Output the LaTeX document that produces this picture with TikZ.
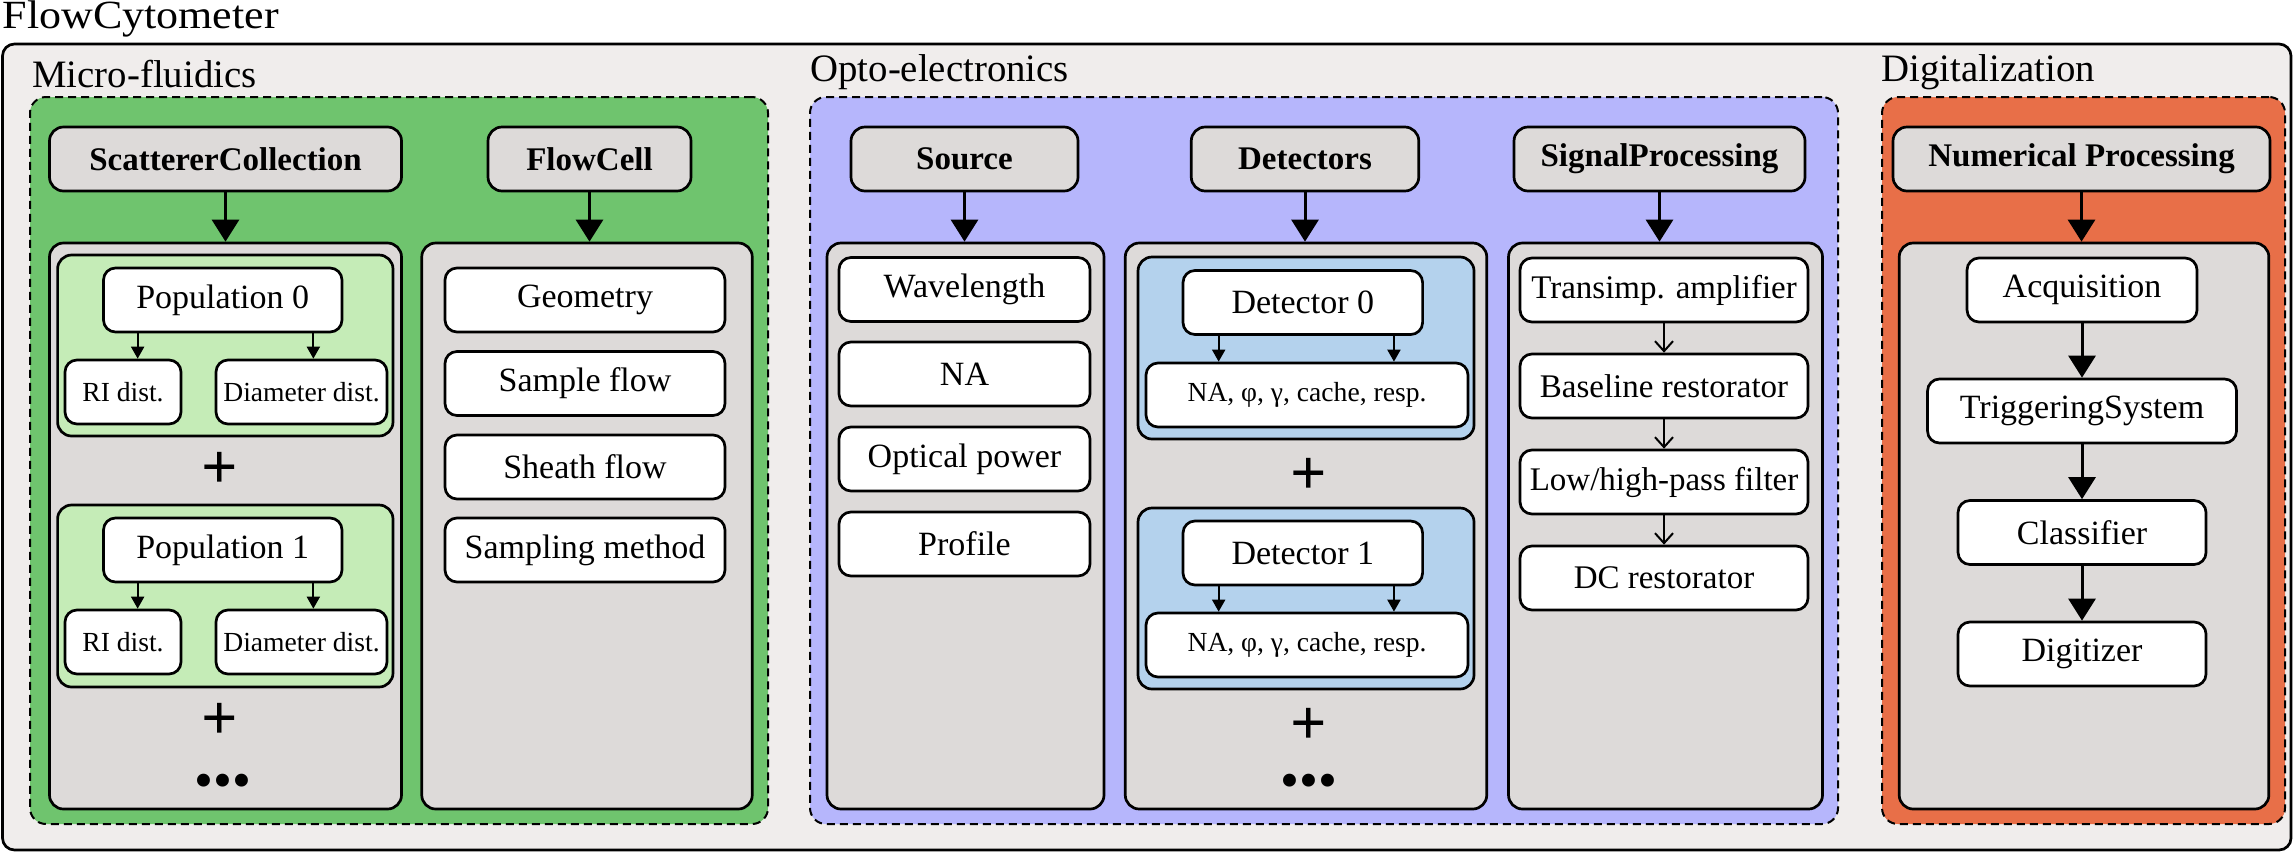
\documentclass[tikz,border=0pt]{standalone}
\usepackage{fontspec}
\setmainfont{Liberation Serif}
\newfontfamily\titlefont[FakeStretch=1.1]{Liberation Serif}
\usepackage{tikz}
\usetikzlibrary{arrows.meta,positioning}
\definecolor{framegray}{RGB}{240,237,236}
\definecolor{boxgray}{RGB}{221,218,217}
\definecolor{fluidgreen}{RGB}{111,196,110}
\definecolor{popgreen}{RGB}{197,236,183}
\definecolor{optoblue}{RGB}{182,182,252}
\definecolor{detblue}{RGB}{180,210,237}
\definecolor{digiorange}{RGB}{232,111,72}
\tikzset{
  frame/.style={draw, line width=1.35pt, rounded corners=6pt, fill=framegray, inner sep=0pt},
  group/.style={draw, line width=1pt, dash pattern=on 4pt off 2.5pt, rounded corners=8pt, inner sep=0pt},
  grouplabel/.style={inner sep=0pt, font=\fontsize{19.4}{21}\selectfont},
  head/.style={draw, line width=1.35pt, rounded corners=7pt, fill=boxgray, minimum height=32pt, inner sep=0pt, font=\fontsize{16.5}{18}\selectfont\bfseries},
  panel/.style={draw, line width=1.35pt, rounded corners=7pt, fill=boxgray, minimum height=283pt, inner sep=0pt},
  sub/.style={draw, line width=1.35pt, rounded corners=7pt, inner sep=0pt},
  item/.style={draw, line width=1.35pt, rounded corners=6pt, fill=white, minimum height=32pt, inner sep=0pt, font=\fontsize{17}{19}\selectfont},
  smallitem/.style={item, font=\fontsize{13.8}{15}\selectfont},
  bigarrow/.style={line width=1.5pt, -{Triangle[width=13.5pt,length=11pt]}},
  smallarrow/.style={line width=1pt, -{Triangle[width=6.5pt,length=6pt]}},
  thinarrow/.style={line width=1pt, -{Straight Barb[width=9pt,length=5pt]}},
  plus/.style={inner sep=0pt, font=\fontsize{32}{34}\selectfont\bfseries},
  more/.style={inner sep=0pt, font=\fontsize{27}{30}\selectfont},
}

\begin{document}
\begin{tikzpicture}[x=0.5pt, y=-0.5pt]
    \useasboundingbox (0,0) rectangle (2294,852);
    \node[frame, minimum width=1144.25pt, minimum height=403pt] (cytometer) at (1146.75,447) {};
    \node[inner sep=0pt, font=\titlefont\fontsize{20}{22}\selectfont, anchor=south west] (cytotitle) at ([xshift=0.5pt,yshift=2.5pt]cytometer.north west) {FlowCytometer};

    % three groups
    \node[group, fill=fluidgreen, minimum width=369pt, minimum height=363.5pt] (fluidics) at (399,460.5) {};
    \node[group, fill=optoblue, minimum width=514pt, minimum height=363.5pt] (opto) at (1324,460.5) {};
    \node[group, fill=digiorange, minimum width=201.5pt, minimum height=363.5pt] (digital) at (2083.5,460.5) {};
    \node[grouplabel, anchor=south west] (fluidicslabel) at ([xshift=1.5pt,yshift=4pt]fluidics.north west) {Micro-fluidics};
    \node[grouplabel, anchor=south west] (optolabel) at ([xshift=0.5pt,yshift=3pt]opto.north west) {Opto-electronics};
    \node[grouplabel, anchor=south west] (digitallabel) at ([yshift=3pt]digital.north west) {Digitalization};

    % headers
    \node[head, minimum width=176pt] (scatterers) at (225.5,159) {ScattererCollection};
    \node[head, minimum width=101.5pt] (flowcell) at (589.5,159) {FlowCell};
    \node[head, minimum width=113.5pt] (source) at (964.5,159) {Source};
    \node[head, minimum width=113.75pt] (detectors) at (1305,159) {Detectors};
    \node[head, minimum width=145.5pt] (signal) at (1659.5,159) {SignalProcessing};
    \node[head, minimum width=188.5pt] (numerical) at (2081.5,159) {Numerical Processing};

    % panels
    \node[panel, minimum width=176pt] (scatterpanel) at (225.5,526) {};
    \node[panel, minimum width=165.25pt] (flowpanel) at (587,526) {};
    \node[panel, minimum width=138.5pt] (sourcepanel) at (965.5,526) {};
    \node[panel, minimum width=180.75pt] (detpanel) at (1306,526) {};
    \node[panel, minimum width=157pt] (signalpanel) at (1665.5,526) {};
    \node[panel, minimum width=184.8pt] (numpanel) at (2084,526) {};

    \draw[bigarrow] (scatterers.south) -- (scatterers.south |- scatterpanel.north);
    \draw[bigarrow] (flowcell.south) -- (flowcell.south |- flowpanel.north);
    \draw[bigarrow] (source.south) -- (source.south |- sourcepanel.north);
    \draw[bigarrow] (detectors.south) -- (detectors.south |- detpanel.north);
    \draw[bigarrow] (signal.south) -- (signal.south |- signalpanel.north);
    \draw[bigarrow] (numerical.south) -- (numerical.south |- numpanel.north);

    % scatterer populations
    \node[sub, fill=popgreen, minimum width=167.7pt, minimum height=90.5pt] (popbox0) at (225.3,345.5) {};
    \node[item, minimum width=119.25pt] (pop0) at (222.75,300) {Population 0};
    \node[smallitem, minimum width=58pt] (ri0) at (123,392) {RI dist.};
    \node[smallitem, minimum width=85.5pt] (dia0) at (301.5,392) {Diameter dist.};
    \draw[smallarrow] ([xshift=17.75pt]pop0.south west) -- ([xshift=17.75pt]pop0.south west |- ri0.north);
    \draw[smallarrow] ([xshift=-15pt]pop0.south east) -- ([xshift=-15pt]pop0.south east |- dia0.north);
    \node[plus] (scplus0) at (220,470) {+};
    \node[sub, fill=popgreen, minimum width=167.7pt, minimum height=91pt] (popbox1) at (225.3,596) {};
    \node[item, minimum width=119.25pt] (pop1) at (222.75,550) {Population 1};
    \node[smallitem, minimum width=58pt] (ri1) at (123,642) {RI dist.};
    \node[smallitem, minimum width=85.5pt] (dia1) at (301.5,642) {Diameter dist.};
    \draw[smallarrow] ([xshift=17.75pt]pop1.south west) -- ([xshift=17.75pt]pop1.south west |- ri1.north);
    \draw[smallarrow] ([xshift=-15pt]pop1.south east) -- ([xshift=-15pt]pop1.south east |- dia1.north);
    \node[plus] (scplus1) at (220,721) {+};
    \node[more] (scmore) at (223,786) {•••};

    % flow cell
    \node[item, minimum width=140pt] (geometry) at (585,300) {Geometry};
    \node[item, minimum width=140pt] (sampleflow) at (585,383.5) {Sample flow};
    \node[item, minimum width=140pt] (sheathflow) at (585,467) {Sheath flow};
    \node[item, minimum width=140pt] (sampling) at (585,550) {Sampling method};

    % source
    \node[item, minimum width=125.5pt] (wavelength) at (964.5,289.5) {Wavelength};
    \node[item, minimum width=125.5pt] (na) at (964.5,374) {NA};
    \node[item, minimum width=125.5pt] (power) at (964.5,459) {Optical power};
    \node[item, minimum width=125.5pt] (profile) at (964.5,544) {Profile};

    % detectors
    \node[sub, fill=detblue, minimum width=168pt, minimum height=91pt] (detbox0) at (1306,348) {};
    \node[item, minimum width=119.8pt] (det0) at (1302.8,302.5) {Detector 0};
    \node[smallitem, minimum width=161pt] (detprops0) at (1307,395) {NA, φ, γ, cache, resp.};
    \draw[smallarrow] ([xshift=18.5pt]det0.south west) -- ([xshift=18.5pt]det0.south west |- detprops0.north);
    \draw[smallarrow] ([xshift=-15pt]det0.south east) -- ([xshift=-15pt]det0.south east |- detprops0.north);
    \node[plus] (detplus0) at (1309,476) {+};
    \node[sub, fill=detblue, minimum width=168pt, minimum height=90.5pt] (detbox1) at (1306,598.5) {};
    \node[item, minimum width=119.8pt] (det1) at (1302.8,553) {Detector 1};
    \node[smallitem, minimum width=161pt] (detprops1) at (1307,645) {NA, φ, γ, cache, resp.};
    \draw[smallarrow] ([xshift=18.5pt]det1.south west) -- ([xshift=18.5pt]det1.south west |- detprops1.north);
    \draw[smallarrow] ([xshift=-15pt]det1.south east) -- ([xshift=-15pt]det1.south east |- detprops1.north);
    \node[plus] (detplus1) at (1309,726) {+};
    \node[more] (detmore) at (1309,786) {•••};

    % signal processing chain
    \node[item, minimum width=144pt, font=\fontsize{16.5}{18}\selectfont] (tia) at (1664,290) {Transimp. amplifier};
    \node[item, minimum width=144pt, font=\fontsize{16.5}{18}\selectfont] (baseline) at (1664,386) {Baseline restorator};
    \node[item, minimum width=144pt, font=\fontsize{16.5}{18}\selectfont] (filter) at (1664,482) {Low/high-pass filter};
    \node[item, minimum width=144pt, font=\fontsize{16.5}{18}\selectfont] (dcrest) at (1664,578) {DC restorator};
    \draw[thinarrow] (tia) -- (baseline);
    \draw[thinarrow] (baseline) -- (filter);
    \draw[thinarrow] (filter) -- (dcrest);

    % numerical processing chain
    \node[item, minimum width=115pt] (acquisition) at (2082,290) {Acquisition};
    \node[item, minimum width=154.5pt] (triggering) at (2082,411) {TriggeringSystem};
    \node[item, minimum width=124pt] (classifier) at (2082,532.5) {Classifier};
    \node[item, minimum width=124pt] (digitizer) at (2082,654) {Digitizer};
    \draw[bigarrow] (acquisition) -- (triggering);
    \draw[bigarrow] (triggering) -- (classifier);
    \draw[bigarrow] (classifier) -- (digitizer);
\end{tikzpicture}
\end{document}
